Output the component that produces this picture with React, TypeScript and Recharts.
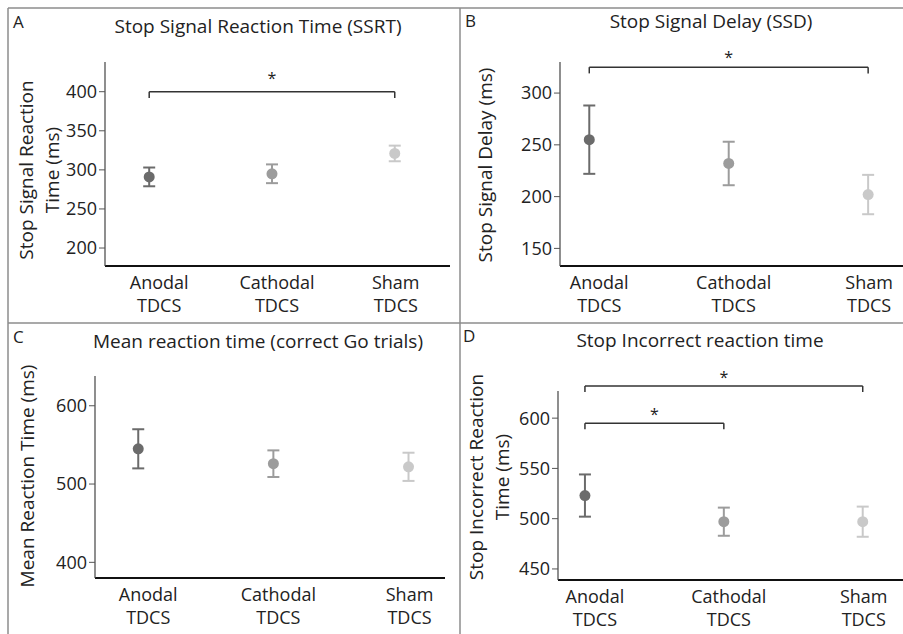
import React from "react";
import { ScatterChart, Scatter, XAxis, YAxis, ErrorBar, ReferenceLine } from "recharts";

const W = 903;
const H = 634;
const FONT = "'Open Sans', sans-serif";

const groups = ["Anodal", "Cathodal", "Sham"];
const groupColors = ["#6b6b6b", "#9c9c9c", "#c9c9c9"];

// A: stop signal reaction time
const ssrtMean = [291, 295, 321];
const ssrtErr = [12, 12, 10];
const ssrtTicks = [200, 250, 300, 350, 400];

// B: stop signal delay
const ssdMean = [255, 232, 202];
const ssdErr = [33, 21, 19];
const ssdTicks = [150, 200, 250, 300];

// C: mean RT, correct go trials
const goMean = [545, 526, 522];
const goErr = [25, 17, 18];
const goTicks = [400, 500, 600];

// D: stop incorrect RT
const stopIncMean = [523, 497, 497];
const stopIncErr = [21, 14, 15];
const stopIncTicks = [450, 500, 550, 600];

// significance brackets (group index from/to, height in ms)
const ssrtSig = [{ from: 0, to: 2, y: 400 }];
const ssdSig = [{ from: 0, to: 2, y: 325 }];
const stopIncSig = [
    { from: 0, to: 1, y: 595 },
    { from: 0, to: 2, y: 632 },
];

const tickDx = [10, 5, 1];

function GroupTick(props: any) {
    const { x, y, payload } = props;
    const i = payload.value;
    const cx = x + tickDx[i];
    return (
        <text x={cx} y={y} textAnchor="middle" fontSize={18} fill="#222">
            <tspan x={cx} dy={15}>{groups[i]}</tspan>
            <tspan x={cx} dy={22.5}>TDCS</tspan>
        </text>
    );
}

const dot = (props: any) => <circle cx={props.cx} cy={props.cy} r={5.5} fill={props.fill} />;

interface PanelProps {
    means: number[];
    errs: number[];
    ticks: number[];
    yDomain: [number, number];
    xDomain: [number, number];
    margin: { top: number; right: number; bottom: number; left: number };
    sig?: { from: number; to: number; y: number }[];
    drop?: number;
    starOffset?: number;
}

function Panel({ means, errs, ticks, yDomain, xDomain, margin, sig = [], drop = 6, starOffset = 4 }: PanelProps) {
    return (
        <div style={{ position: "absolute", left: 0, top: 0 }}>
            <ScatterChart width={W} height={H} margin={margin}>
                <XAxis
                    type="number"
                    dataKey="x"
                    domain={xDomain}
                    ticks={[0, 1, 2]}
                    interval={0}
                    allowDataOverflow
                    height={40}
                    axisLine={{ stroke: "#111", strokeWidth: 2 }}
                    tickLine={false}
                    tick={<GroupTick />}
                />
                <YAxis
                    type="number"
                    dataKey="y"
                    domain={yDomain}
                    ticks={ticks}
                    interval={0}
                    allowDataOverflow
                    width={40}
                    axisLine={{ stroke: "#444", strokeWidth: 1.2 }}
                    tickLine={{ stroke: "#555" }}
                    tickSize={6}
                    tickMargin={2}
                    tick={{ fontSize: 18, fill: "#222" }}
                />
                {groups.map((g, i) => (
                    <Scatter
                        key={g}
                        name={g}
                        data={[{ x: i, y: means[i], err: errs[i] }]}
                        fill={groupColors[i]}
                        shape={dot}
                        isAnimationActive={false}
                    >
                        <ErrorBar dataKey="err" direction="y" width={6} stroke={groupColors[i]} strokeWidth={2} isAnimationActive={false} />
                    </Scatter>
                ))}
                {sig.flatMap((s, k) => [
                    <ReferenceLine
                        key={`h${k}`}
                        segment={[{ x: s.from, y: s.y }, { x: s.to, y: s.y }]}
                        stroke="#333"
                        strokeWidth={1.5}
                        ifOverflow="visible"
                        label={{ value: "*", position: "top", offset: starOffset, fontSize: 16, fill: "#222" }}
                    />,
                    <ReferenceLine
                        key={`l${k}`}
                        segment={[{ x: s.from, y: s.y }, { x: s.from, y: s.y - drop }]}
                        stroke="#333"
                        strokeWidth={1.5}
                        ifOverflow="visible"
                    />,
                    <ReferenceLine
                        key={`r${k}`}
                        segment={[{ x: s.to, y: s.y }, { x: s.to, y: s.y - drop }]}
                        stroke="#333"
                        strokeWidth={1.5}
                        ifOverflow="visible"
                    />,
                ])}
            </ScatterChart>
        </div>
    );
}

function Overlay() {
    const frame = "#8c8c8c";
    const txt = { fill: "#222", fontFamily: FONT };
    return (
        <svg width={W} height={H} style={{ position: "absolute", left: 0, top: 0 }}>
            <line x1={8} y1={8} x2={W} y2={8} stroke={frame} strokeWidth={1.5} />
            <line x1={8} y1={8} x2={8} y2={H} stroke={frame} strokeWidth={1.5} />
            <line x1={460} y1={8} x2={460} y2={H} stroke={frame} strokeWidth={1.5} />
            <line x1={8} y1={323} x2={W} y2={323} stroke={frame} strokeWidth={1.5} />

            <text x={13} y={28} fontSize={17} {...txt}>A</text>
            <text x={465} y={27} fontSize={17} {...txt}>B</text>
            <text x={13} y={343} fontSize={17} {...txt}>C</text>
            <text x={463} y={342} fontSize={17} {...txt}>D</text>

            <text x={258} y={33} fontSize={19} textAnchor="middle" {...txt}>Stop Signal Reaction Time (SSRT)</text>
            <text x={711} y={28} fontSize={19} textAnchor="middle" {...txt}>Stop Signal Delay (SSD)</text>
            <text x={258} y={348} fontSize={19} textAnchor="middle" {...txt}>Mean reaction time (correct Go trials)</text>
            <text x={700} y={347} fontSize={19} textAnchor="middle" {...txt}>Stop Incorrect reaction time</text>

            <text transform="translate(33,170) rotate(-90)" fontSize={19} textAnchor="middle" {...txt}>Stop Signal Reaction</text>
            <text transform="translate(59,170) rotate(-90)" fontSize={19} textAnchor="middle" {...txt}>Time (ms)</text>
            <text transform="translate(492,165) rotate(-90)" fontSize={19} textAnchor="middle" {...txt}>Stop Signal Delay (ms)</text>
            <text transform="translate(34,476) rotate(-90)" fontSize={19} textAnchor="middle" {...txt}>Mean Reaction Time (ms)</text>
            <text transform="translate(483,477) rotate(-90)" fontSize={19} textAnchor="middle" {...txt}>Stop Incorrect Reaction</text>
            <text transform="translate(509,477) rotate(-90)" fontSize={19} textAnchor="middle" {...txt}>Time (ms)</text>
        </svg>
    );
}

export default function App() {
    return (
        <div style={{ position: "absolute", left: 0, top: 0, width: W, height: H, background: "#fff", fontFamily: FONT }}>
            <Overlay />
            <Panel
                means={ssrtMean}
                errs={ssrtErr}
                ticks={ssrtTicks}
                yDomain={[177, 438]}
                xDomain={[-0.36, 2.45]}
                margin={{ top: 62, left: 65, right: W - 450, bottom: H - 266 - 40 }}
                sig={ssrtSig}
                drop={8}
                starOffset={8}
            />
            <Panel
                means={ssdMean}
                errs={ssdErr}
                ticks={ssdTicks}
                yDomain={[133, 330]}
                xDomain={[-0.21, 2.25]}
                margin={{ top: 62, left: 520, right: 0, bottom: H - 266 - 40 }}
                sig={ssdSig}
                drop={6}
                starOffset={4}
            />
            <Panel
                means={goMean}
                errs={goErr}
                ticks={goTicks}
                yDomain={[380, 638]}
                xDomain={[-0.32, 2.27]}
                margin={{ top: 376, left: 55, right: W - 445, bottom: H - 578 - 40 }}
            />
            <Panel
                means={stopIncMean}
                errs={stopIncErr}
                ticks={stopIncTicks}
                yDomain={[439, 627]}
                xDomain={[-0.194, 2.29]}
                margin={{ top: 391, left: 518, right: 0, bottom: H - 580 - 40 }}
                sig={stopIncSig}
                drop={6}
                starOffset={3}
            />
        </div>
    );
}
